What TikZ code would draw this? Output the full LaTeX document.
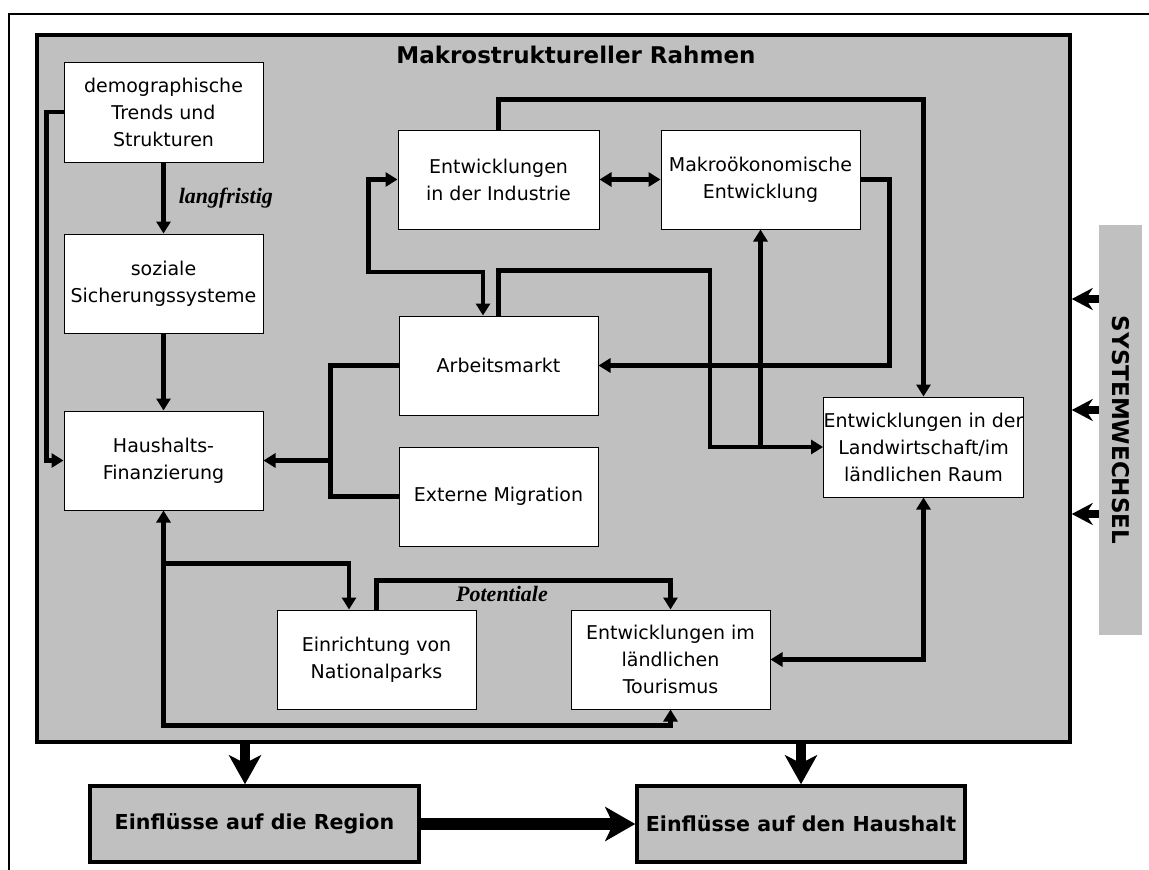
\documentclass[tikz,border=0pt]{standalone}
\usepackage{fontspec}
\setmainfont{DejaVu Sans}
\newfontfamily\labelserif{Liberation Serif}
\usetikzlibrary{arrows.meta}
\definecolor{panel}{RGB}{192,192,192}

\begin{document}
\begin{tikzpicture}[x=1pt,y=-1pt,
  box/.style={draw=black, line width=1pt, fill=white, align=center, inner sep=0pt,
    minimum width=199pt, minimum height=99pt, font=\fontsize{19}{27}\selectfont},
  outbox/.style={draw=black, line width=3.5pt, fill=panel, inner sep=0pt,
    minimum height=76pt, font=\bfseries\fontsize{20.6}{24}\selectfont},
  wire/.style={line width=4.5pt},
  link/.style={wire, -{Triangle[length=12pt,width=14pt]}},
  twoway/.style={wire, {Triangle[length=12pt,width=14pt]}-{Triangle[length=12pt,width=14pt]}},
  note/.style={font=\labelserif\bfseries\itshape\fontsize{22}{26}\selectfont, inner sep=0pt},
  push/.style={line width=8pt, -{Stealth[length=21pt,width=22pt,inset=7pt]}},
  bigdown/.style={line width=10pt, -{Stealth[length=29pt,width=32pt,inset=8pt]}},
  bigright/.style={line width=12pt, -{Stealth[length=30pt,width=34pt,inset=8pt]}}
]
\useasboundingbox (0,0) rectangle (1149,870);

% outer frame (open towards right and bottom)
\draw[line width=2pt] (9,870) -- (9,14) -- (1149,14);

% macro-structural panel
\node[draw=black, line width=3.5pt, fill=panel, minimum width=1033pt, minimum height=707pt,
  inner sep=0pt] (frame) at (553.5,388.5) {};
\node[font=\bfseries\fontsize{23}{27}\selectfont] (title) at (576,55) {Makrostruktureller Rahmen};

% system change strip
\node[fill=panel, minimum width=43pt, minimum height=410pt, inner sep=0pt] (sys) at (1120.5,430) {};
\node[rotate=-90, font=\bfseries\fontsize{23}{26}\selectfont] (syslabel) at (sys) {SYSTEMWECHSEL};

% boxes
\node[box, minimum height=100pt] (demo)   at (163.5,112)   {demographische\\Trends und\\Strukturen};
\node[box] (sozial) at (163.5,283.5) {soziale\\Sicherungssysteme};
\node[box] (haus)   at (163.5,460.5) {Haushalts-\\Finanzierung};
\node[box, minimum width=201pt] (ind) at (498.5,179.5) {Entwicklungen\\in der Industrie};
\node[box] (makro)  at (760.5,179.5) {Makroökonomische\\Entwicklung};
\node[box] (arb)    at (498.5,365.5) {Arbeitsmarkt};
\node[box] (ext)    at (498.5,496.5) {Externe Migration};
\node[box, minimum height=100pt] (land) at (923.5,447) {Entwicklungen in der\\Landwirtschaft/im\\ländlichen Raum};
\node[box] (nat)    at (376.5,659.5) {Einrichtung von\\Nationalparks};
\node[box] (tour)   at (670.5,659.5) {Entwicklungen im\\ländlichen\\Tourismus};

\node[outbox, minimum width=329pt] (region)   at (254.5,824) {Einflüsse auf die Region};
\node[outbox, minimum width=328pt] (haushalt) at (801,824)   {Einflüsse auf den Haushalt};

% left column
\draw[link] (demo.west) -- ++(-17,0) |- (haus.west);
\draw[link] (demo) -- node[note, right=13pt] {langfristig} (sozial);
\draw[link] (sozial) -- (haus);

% labour market and migration into household finance
\draw[wire] (arb.west) -- ++(-68,0) coordinate (j1) |- (ext.west);
\draw[link] (j1 |- haus.east) -- (haus.east);

% household finance, national parks and tourism
\draw[twoway] (haus.south) -- ++(0,215) -| (tour.south);
\draw[link] (haus.south) ++(0,53) -| ([xshift=-27.5pt]nat.north);
\draw[link] (nat.north) -- ++(0,-29) -| (tour.north);
\node[note] (pot) at (502,594) {Potentiale};
\draw[twoway] (tour.east) -| (land.south);

% industry, macro economy, labour market, agriculture
\draw[twoway] (ind.east) -- (makro.west);
\draw[link] (ind.north) -- ++(0,-30) -| (land.north);
\draw[twoway] (ind.west) -- ++(-29,0) -- ++(0,92.5) -| ([xshift=-15.5pt]arb.north);
\draw[link] (arb.north) -- ++(0,-45) -| ([xshift=-113pt]land.west) -- (land.west);
\draw[link] (makro.south |- land.west) -- (makro.south);
\draw[link] (makro.east) -- ++(29,0) |- (arb.east);

% system change pressure
\coordinate (s1) at (0,299);
\coordinate (s2) at (0,410);
\coordinate (s3) at (0,514);
\draw[push] (sys.west |- s1) -- (frame.east |- s1);
\draw[push] (sys.west |- s2) -- (frame.east |- s2);
\draw[push] (sys.west |- s3) -- (frame.east |- s3);

% effects
\draw[bigdown] ([xshift=-9.5pt]region.north |- frame.south) -- ([xshift=-9.5pt]region.north);
\draw[bigdown] (haushalt.north |- frame.south) -- (haushalt.north);
\draw[bigright] (region.east) -- (haushalt.west);
\end{tikzpicture}
\end{document}
